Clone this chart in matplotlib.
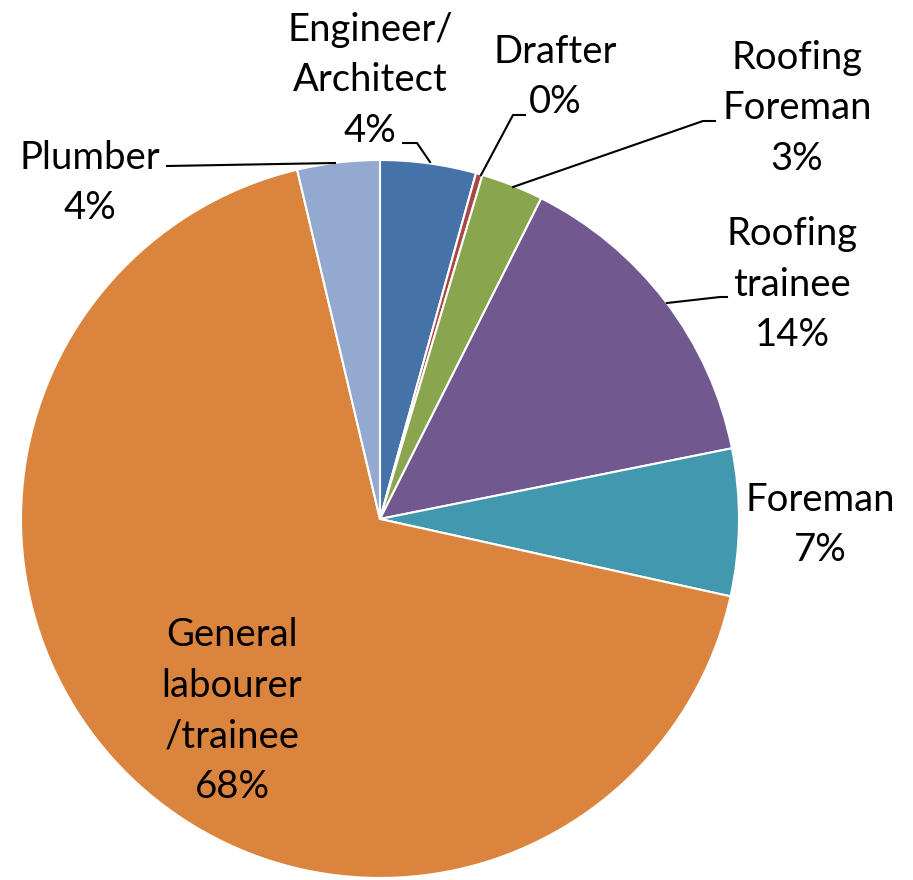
import numpy as np
import matplotlib.pyplot as plt

plt.rcParams['font.family'] = ['Lato', 'DejaVu Sans']

jobs = ['Engineer/\nArchitect', 'Drafter', 'Roofing\nForeman', 'Roofing\ntrainee',
        'Foreman', 'General\nlabourer\n/trainee', 'Plumber']
shares = [4.3, 0.3, 2.8, 14.4, 6.6, 67.7, 3.7]
colors = ['#4572A7', '#AA4643', '#89A54E', '#71588F', '#4198AF', '#DB843D', '#93A9CF']

# label centres (pixels in the 913x880 picture) and leader lines
label_px = [(370, 80), (555, 77), (797, 108), (792, 285), (820, 525), (232, 711), (90, 183)]
leaders = [[(403, 143), (417, 143), (430, 162)],
           [(525, 115), (513, 115), (481, 175)],
           [(715, 121), (703, 121), (513, 187)],
           [(727, 297), (720, 297), (667, 303)],
           None, None,
           [(167, 166), (335, 163)]]

cx, cy, r = 380, 519, 359
W, H = 913, 880


def to_data(p):
    return ((p[0] - cx) / r, (cy - p[1]) / r)


fig = plt.figure(figsize=(W / 100, H / 100), dpi=100)
ax = fig.add_axes([0, 0, 1, 1])

ax.pie(shares, colors=colors, startangle=90, counterclock=False,
       wedgeprops=dict(edgecolor='white', linewidth=1.5))

for name, v, p, ld in zip(jobs, shares, label_px, leaders):
    x, y = to_data(p)
    ax.text(x, y, f'{name}\n{round(v)}%', ha='center', va='center',
            fontsize=27.5, linespacing=1.5, color='black')
    if ld:
        pts = np.array([to_data(q) for q in ld])
        ax.plot(pts[:, 0], pts[:, 1], color='black', lw=1.5)

ax.set_xlim(-cx / r, (W - cx) / r)
ax.set_ylim((cy - H) / r, cy / r)
ax.set_aspect('auto')
ax.axis('off')

fig.savefig('out.png', dpi=100, facecolor='white')
